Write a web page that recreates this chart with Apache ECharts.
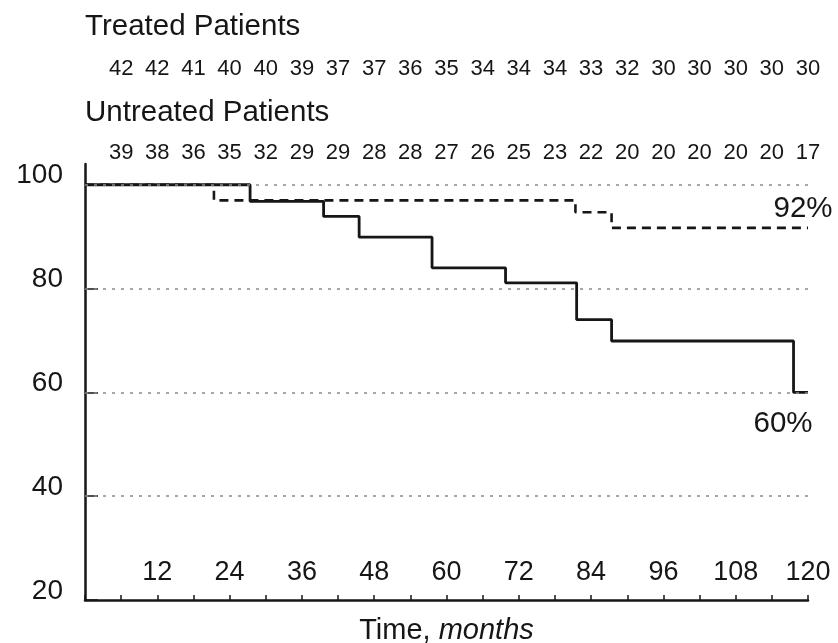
<!DOCTYPE html>
<html>
<head>
<meta charset="utf-8">
<script src="https://cdn.jsdelivr.net/npm/echarts@6/dist/echarts.min.js"></script>
<style>
html,body{margin:0;padding:0;background:#fff;}
#chart{width:838px;height:643px;}
</style>
</head>
<body>
<div id="chart"></div>
<script>
// ---- data ----
const treatedTitle = 'Treated Patients';
const untreatedTitle = 'Untreated Patients';
const riskMonths = [6, 12, 18, 24, 30, 36, 42, 48, 54, 60, 66, 72, 78, 84, 90, 96, 102, 108, 114, 120];
const treatedAtRisk = [42, 42, 41, 40, 40, 39, 37, 37, 36, 35, 34, 34, 34, 33, 32, 30, 30, 30, 30, 30];
const untreatedAtRisk = [39, 38, 36, 35, 32, 29, 29, 28, 28, 27, 26, 25, 23, 22, 20, 20, 20, 20, 20, 17];

const treatedTimes = [0, 21.4, 81.4, 87.4, 120];
const treatedSurv = [100, 97.0, 94.7, 91.7, 91.7];
const untreatedTimes = [0, 27.4, 39.6, 45.5, 57.6, 69.8, 81.6, 87.4, 117.6, 120];
const untreatedSurv = [100, 96.8, 93.9, 89.9, 84.0, 81.1, 74.0, 69.9, 60.0, 60.0];

const yTickValues = [20, 40, 60, 80, 100];
const gridValues = [40, 60, 80, 100];
const xLabelValues = [12, 24, 36, 48, 60, 72, 84, 96, 108, 120];
const endLabels = ['92%', '60%'];
const xAxisTitle = 'Time, ';
const xAxisTitleItalic = 'months';

// ---- chart ----
const FONT = '"Liberation Sans", Arial, Helvetica, sans-serif';
const INK = '#161616';
const chart = echarts.init(document.getElementById('chart'), null, {renderer: 'canvas'});

const treatedData = treatedTimes.map((t, i) => [t, treatedSurv[i]]);
const untreatedData = untreatedTimes.map((t, i) => [t, untreatedSurv[i]]);

function topAxis(values, offset, margin) {
  return {
    type: 'value', min: 0, max: 120, position: 'top', offset: offset,
    axisLine: {show: false}, axisTick: {show: false}, splitLine: {show: false},
    axisLabel: {
      show: true, margin: margin, customValues: riskMonths,
      formatter: (v) => { const k = riskMonths.indexOf(v); return k >= 0 ? String(values[k]) : ''; },
      fontFamily: FONT, fontSize: 22, color: INK
    }
  };
}

const option = {
  animation: false,
  backgroundColor: '#ffffff',
  title: [
    {text: treatedTitle, left: 85, top: 12, padding: 0, textStyle: {fontFamily: FONT, fontSize: 29.5, fontWeight: 'normal', color: INK}},
    {text: untreatedTitle, left: 85, top: 98, padding: 0, textStyle: {fontFamily: FONT, fontSize: 29.5, fontWeight: 'normal', color: INK}}
  ],
  grid: {left: 85, right: 30, top: 164, bottom: 43, containLabel: false, outerBoundsMode: 'none'},
  xAxis: [
    {
      type: 'value', min: 0, max: 120, interval: 6, position: 'bottom',
      axisLine: {show: true, lineStyle: {color: INK, width: 2.5}},
      axisTick: {show: true, inside: true, length: 5, lineStyle: {color: INK, width: 1.5}},
      splitLine: {show: false},
      axisLabel: {
        show: true, inside: true, margin: 14, customValues: xLabelValues,
        fontFamily: FONT, fontSize: 27, color: INK
      },
      name: '{a|' + xAxisTitle + '}{b|' + xAxisTitleItalic + '}',
      nameLocation: 'middle', nameGap: 16,
      nameTextStyle: {
        rich: {
          a: {fontFamily: FONT, fontSize: 29, color: INK},
          b: {fontFamily: FONT, fontSize: 29, color: INK, fontStyle: 'italic'}
        }
      }
    },
    topAxis(treatedAtRisk, 80, 4),
    topAxis(untreatedAtRisk, 0, 0)
  ],
  yAxis: {
    type: 'value', min: 20, max: 104, interval: 20,
    axisLine: {show: true, lineStyle: {color: INK, width: 2.5}},
    axisTick: {show: true, inside: true, length: 13, customValues: yTickValues, lineStyle: {color: INK, width: 1.5}},
    splitLine: {show: false},
    axisLabel: {
      show: true, margin: 22, customValues: yTickValues,
      fontFamily: FONT, fontSize: 28, color: INK,
      verticalAlign: 'bottom', lineHeight: 18
    }
  },
  series: [
    {
      type: 'line', name: 'grid', data: [], silent: true,
      markLine: {
        silent: true, symbol: ['none', 'none'], label: {show: false},
        lineStyle: {type: [3, 6], color: '#8a8a8a', width: 1.5},
        data: gridValues.map(v => ({yAxis: v}))
      },
      z: 1
    },
    {
      type: 'line', name: 'Treated', data: treatedData, step: 'end',
      showSymbol: false, symbol: 'none',
      lineStyle: {color: INK, width: 2.6, type: [9, 6]},
      markPoint: {
        symbol: 'circle', symbolSize: 0, silent: true,
        data: [{coord: treatedData[treatedData.length - 1], value: endLabels[0]}],
        label: {show: true, position: 'inside', offset: [-5, -19], formatter: endLabels[0],
          fontFamily: FONT, fontSize: 29.5, color: INK}
      },
      z: 2
    },
    {
      type: 'line', name: 'Untreated', data: untreatedData, step: 'end',
      showSymbol: false, symbol: 'none',
      lineStyle: {color: INK, width: 2.8, type: 'solid'},
      markPoint: {
        symbol: 'circle', symbolSize: 0, silent: true,
        data: [{coord: untreatedData[untreatedData.length - 1], value: endLabels[1]}],
        label: {show: true, position: 'inside', offset: [-25, 31], formatter: endLabels[1],
          fontFamily: FONT, fontSize: 29.5, color: INK}
      },
      z: 3
    }
  ]
};
chart.setOption(option);
</script>
</body>
</html>
